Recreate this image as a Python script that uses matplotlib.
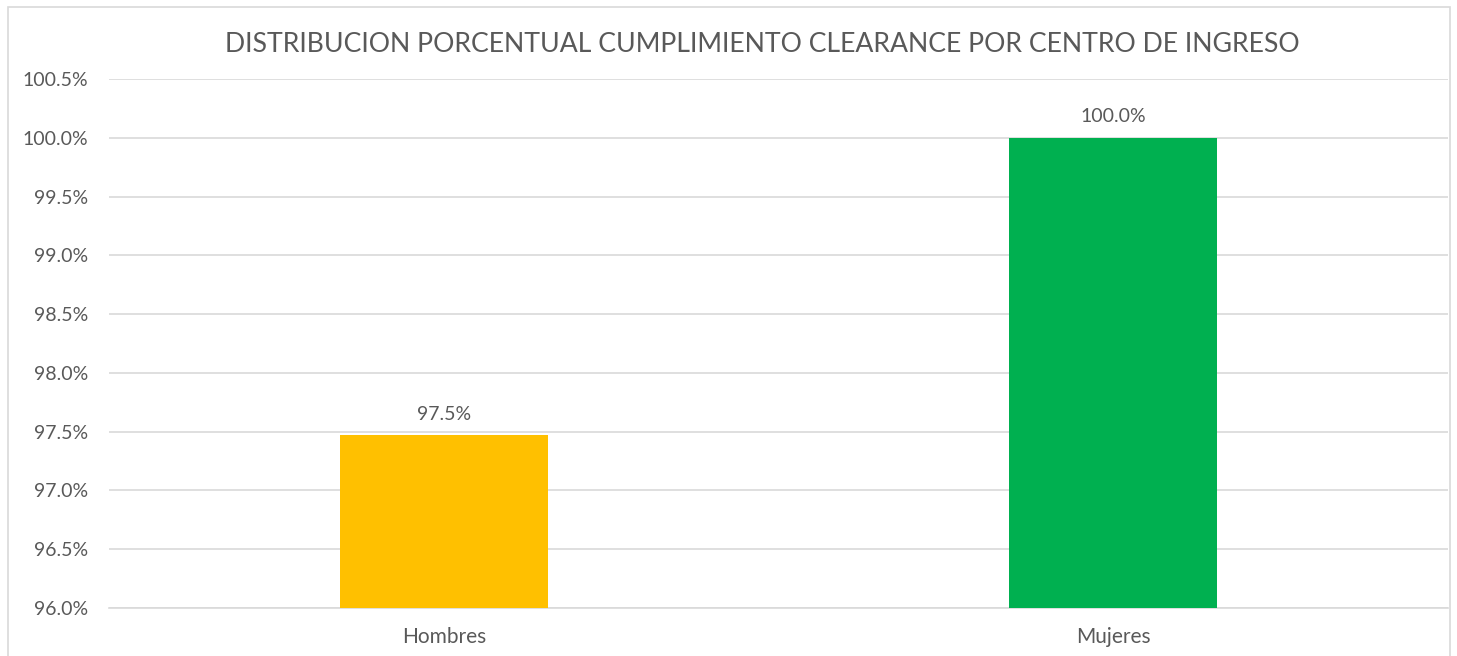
import matplotlib
matplotlib.use("Agg")
import matplotlib.pyplot as plt
from matplotlib.patches import Rectangle
from matplotlib.ticker import FuncFormatter, MultipleLocator

# DATA
CATEGORIAS = ["Hombres", "Mujeres"]
CUMPLIMIENTO = [97.47, 100.0]   # %
ETIQUETAS = ["97.5%", "100.0%"]
TITULO = "DISTRIBUCION PORCENTUAL CUMPLIMIENTO CLEARANCE POR CENTRO DE INGRESO"

# COLORS
COLORES = ["#FFC000", "#00B050"]  # amarillo, verde
TEXT_COLOR = "#595959"
GRID_COLOR = "#D9D9D9"

FONT = ["Lato", "DejaVu Sans"]


def main():
    plt.rcParams["font.family"] = FONT
    fig = plt.figure(figsize=(14.57, 6.56), dpi=100)
    fig.patch.set_facecolor("white")

    # borde del area del grafico
    fig.patches.append(Rectangle((8 / 1457, -0.05), 1442 / 1457, 1.05 - 7 / 656,
                                 transform=fig.transFigure, facecolor="none",
                                 edgecolor=GRID_COLOR, linewidth=1.2))

    ax = fig.add_axes([109 / 1457, 48 / 656, 1339 / 1457, 529 / 656])
    x = range(len(CATEGORIAS))
    bars = ax.bar(x, CUMPLIMIENTO, width=0.31, color=COLORES, zorder=3)

    ax.set_ylim(96.0, 100.5)
    ax.set_xlim(-0.5, 1.5)
    ax.yaxis.set_major_locator(MultipleLocator(0.5))
    ax.yaxis.set_major_formatter(FuncFormatter(lambda v, p: f"{v:.1f}%"))
    ax.set_xticks(list(x))
    ax.set_xticklabels(CATEGORIAS)

    ax.grid(axis="y", color=GRID_COLOR, linewidth=1.2, zorder=0)
    for s in ["top", "right", "left"]:
        ax.spines[s].set_visible(False)
    ax.spines["bottom"].set_color(GRID_COLOR)
    ax.spines["bottom"].set_linewidth(1.2)
    ax.tick_params(axis="both", length=0, colors=TEXT_COLOR)
    ax.tick_params(axis="y", pad=15, labelsize=14)
    ax.tick_params(axis="x", pad=14, labelsize=15)

    for bar, lab in zip(bars, ETIQUETAS):
        ax.annotate(lab, (bar.get_x() + bar.get_width() / 2, bar.get_height()),
                    xytext=(0, 9), textcoords="offset points", ha="center",
                    va="bottom", fontsize=14, color=TEXT_COLOR)

    fig.text(762 / 1457, 1 - 45 / 656, TITULO, ha="center", va="center",
             fontsize=19.2, color=TEXT_COLOR)

    fig.savefig("out.png", dpi=100)


if __name__ == "__main__":
    main()
